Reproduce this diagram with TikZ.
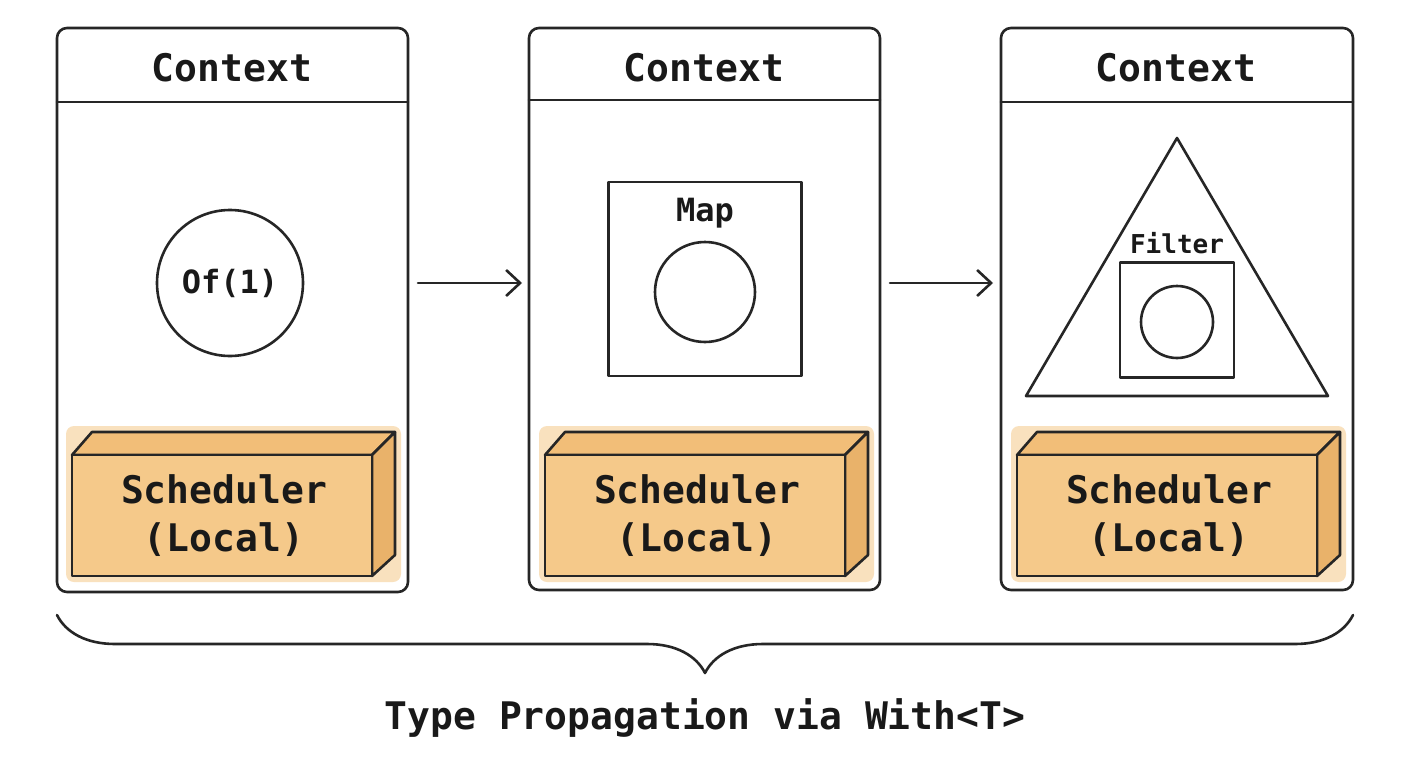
\documentclass[tikz,border=0pt]{standalone}
\usepackage{fontspec}
\setmonofont{DejaVu Sans Mono}
\usetikzlibrary{arrows.meta,decorations.pathreplacing}
\definecolor{boxfill}{HTML}{F5C98A}
\definecolor{boxside}{HTML}{E9B26A}
\definecolor{boxtop}{HTML}{F2BE78}
\tikzset{
  ln/.style={draw=black!85, line width=2.6pt, line join=round, line cap=round},
  panel/.style={ln, rounded corners=10pt},
  lbl/.style={font=\ttfamily\bfseries\fontsize{38}{44}\selectfont, text=black!90, inner sep=0pt},
  mid/.style={font=\ttfamily\bfseries\fontsize{32}{38}\selectfont, text=black!90, inner sep=0pt},
  small/.style={font=\ttfamily\bfseries\fontsize{26}{30}\selectfont, text=black!90, inner sep=0pt},
  arr/.style={ln, -{Straight Barb[length=14pt,width=26pt,line width=2.6pt]}},
}
\newcommand{\schedbox}[2]{% #1 = left x of front, #2 = name
  \fill[boxfill, opacity=0.55, rounded corners=8pt] (#1-6,426) rectangle (#1+329,582);
  \filldraw[ln, fill=boxtop] (#1,455) -- (#1+20,432) -- (#1+323,432) -- (#1+300,455) -- cycle;
  \filldraw[ln, fill=boxside] (#1+300,455) -- (#1+323,432) -- (#1+323,555) -- (#1+300,576) -- cycle;
  \filldraw[ln, fill=boxfill] (#1,455) rectangle (#1+300,576);
  \node[lbl, align=center] (#2) at (#1+152,516) {Scheduler\\[4pt](Local)};
}
\begin{document}
\begin{tikzpicture}[x=1pt,y=-1pt]
\useasboundingbox[fill=white] (0,0) rectangle (1408,768);
% panels
\draw[panel] (57,28) rectangle (408,592);
\draw[ln] (57,102) -- (408,102);
\node[lbl] (c1) at (232,68) {Context};
\draw[panel] (529,28) rectangle (880,590);
\draw[ln] (529,100) -- (880,100);
\node[lbl] (c2) at (704,68) {Context};
\draw[panel] (1001,28) rectangle (1353,590);
\draw[ln] (1001,102) -- (1353,102);
\node[lbl] (c3) at (1176,68) {Context};
% panel 1 content
\node[ln, circle, minimum size=146pt] (of) at (230,283) {};
\node[mid] at (of) {Of(1)};
% panel 2 content
\node[ln, minimum width=193pt, minimum height=194pt] (map) at (705,279) {};
\node[mid] (maplbl) at (705,213) {Map};
\node[ln, circle, minimum size=100pt] (mc) at (705,292) {};
% panel 3 content
\draw[ln] (1177,138) -- (1328,396) -- (1026,396) -- cycle;
\node[small] (flbl) at (1177,243) {Filter};
\node[ln, minimum width=114pt, minimum height=115pt] (fsq) at (1177,320) {};
\node[ln, circle, minimum size=72pt] (fc) at (1177,322) {};
% scheduler boxes
\schedbox{72}{s1}
\schedbox{545}{s2}
\schedbox{1017}{s3}
% arrows
\coordinate (a1s) at (418,283); \coordinate (a1e) at (522,283);
\coordinate (a2s) at (890,283); \coordinate (a2e) at (993,283);
\draw[arr] (a1s) -- (a1e);
\draw[arr] (a2s) -- (a2e);
% brace
\coordinate (bl) at (57,615); \coordinate (br) at (1353,615);
\draw[ln, decorate, decoration={brace, amplitude=58pt, aspect=0.5, mirror}] (bl) -- (br);
\node[lbl] (cap) at (705,718) {Type Propagation via With<T>};
\end{tikzpicture}
\end{document}
